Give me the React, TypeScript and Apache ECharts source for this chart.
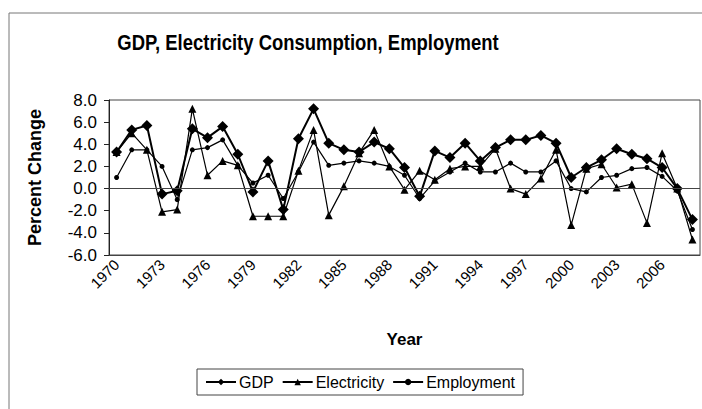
import React, { useEffect, useRef } from "react";
import * as echarts from "echarts";

const years: string[] = [];
for (let y = 1970; y <= 2008; y++) years.push(String(y));

const gdp = [
  3.3, 5.3, 5.7, -0.5, -0.2, 5.4, 4.6, 5.6, 3.1, -0.3,
  2.5, -1.9, 4.5, 7.2, 4.1, 3.5, 3.3, 4.2, 3.6, 1.9,
  -0.7, 3.4, 2.8, 4.1, 2.5, 3.7, 4.4, 4.4, 4.8, 4.1,
  1.0, 1.9, 2.6, 3.6, 3.1, 2.7, 1.9, 0.0, -2.8,
];
const electricity = [
  3.3, 5.0, 3.5, -2.1, -1.9, 7.2, 1.2, 2.5, 2.1, -2.5,
  -2.5, -2.5, 1.6, 5.3, -2.4, 0.2, 3.2, 5.3, 2.0, -0.1,
  1.6, 0.8, 1.8, 2.0, 2.0, 3.6, 0.0, -0.5, 0.9, 3.5,
  -3.3, 1.8, 2.2, 0.1, 0.4, -3.1, 3.2, 0.0, -4.6,
];
const employment = [
  1.0, 3.5, 3.5, 2.0, -1.0, 3.5, 3.7, 4.4, 2.1, 0.5,
  1.2, -0.9, 1.5, 4.2, 2.1, 2.3, 2.5, 2.3, 2.0, 1.2,
  -0.9, 0.7, 1.5, 2.3, 1.5, 1.5, 2.3, 1.5, 1.5, 2.5,
  0.0, -0.3, 1.0, 1.2, 1.8, 1.9, 1.1, -0.2, -3.7,
];

const FONT = "'Liberation Sans', Arial, sans-serif";

export default function App() {
  const ref = useRef<HTMLDivElement>(null);
  useEffect(() => {
    if (!ref.current) return;
    const chart = echarts.init(ref.current, undefined, { renderer: "svg" });
    chart.setOption({
      animation: false,
      backgroundColor: "#fff",
      textStyle: { fontFamily: FONT, color: "#000" },
      graphic: [
        { type: "line", shape: { x1: 9, y1: 13, x2: 702, y2: 13 }, style: { stroke: "#777", lineWidth: 1 } },
        { type: "line", shape: { x1: 9, y1: 13, x2: 9, y2: 409 }, style: { stroke: "#777", lineWidth: 1 } },
        {
          type: "text",
          x: 308,
          y: 42,
          scaleX: 0.84,
          style: {
            text: "GDP, Electricity Consumption, Employment",
            font: "bold 22px 'Liberation Sans', Arial, sans-serif",
            fill: "#000",
            align: "center",
            verticalAlign: "middle",
          },
        },
      ],
      legend: {
        data: ["GDP", "Electricity", "Employment"],
        left: 197,
        top: 369,
        orient: "horizontal",
        borderColor: "#444",
        borderWidth: 1,
        borderRadius: 0,
        padding: [5, 8],
        itemWidth: 30,
        itemHeight: 8,
        itemGap: 8,
        textStyle: { fontFamily: FONT, fontSize: 16, color: "#000", padding: [0, 0, 0, -2] },
      },
      grid: {
        left: 109,
        right: 2,
        top: 100,
        bottom: 154,
        show: true,
        borderColor: "#444",
        borderWidth: 1,
        backgroundColor: "transparent",
      },
      xAxis: {
        type: "category",
        data: years,
        boundaryGap: true,
        name: "Year",
        nameLocation: "middle",
        nameGap: 76,
        nameTextStyle: { fontFamily: FONT, fontSize: 17, fontWeight: "bold", color: "#000" },
        axisLine: { onZero: false, lineStyle: { color: "#444" } },
        axisTick: { show: false },
        axisLabel: {
          interval: 2,
          rotate: 45,
          fontFamily: FONT,
          fontSize: 15,
          color: "#000",
          margin: 7,
        },
        splitLine: { show: false },
      },
      yAxis: {
        type: "value",
        min: -6,
        max: 8,
        interval: 2,
        name: "Percent Change",
        nameLocation: "middle",
        nameGap: 65,
        nameRotate: 90,
        nameTextStyle: { fontFamily: FONT, fontSize: 18, fontWeight: "bold", color: "#000" },
        axisLine: { show: true, lineStyle: { color: "#222" } },
        axisTick: { show: true, inside: false, length: 5, lineStyle: { color: "#222" } },
        axisLabel: {
          fontFamily: FONT,
          fontSize: 17,
          color: "#000",
          margin: 12,
          formatter: (v: number) => v.toFixed(1),
        },
        splitLine: { show: false },
      },
      series: [
        {
          name: "GDP",
          type: "line",
          data: gdp,
          symbol: "diamond",
          symbolSize: 11,
          showSymbol: true,
          showAllSymbol: true,
          lineStyle: { color: "#000", width: 2 },
          itemStyle: { color: "#000" },
          z: 4,
          markLine: {
            silent: true,
            symbol: "none",
            label: { show: false },
            lineStyle: { color: "#444", width: 1, type: "solid" },
            data: [{ yAxis: 0 }],
          },
        },
        {
          name: "Electricity",
          type: "line",
          data: electricity,
          symbol: "triangle",
          symbolSize: 8,
          showSymbol: true,
          showAllSymbol: true,
          lineStyle: { color: "#000", width: 1.2 },
          itemStyle: { color: "#000" },
          z: 3,
        },
        {
          name: "Employment",
          type: "line",
          data: employment,
          symbol: "circle",
          symbolSize: 5,
          showSymbol: true,
          showAllSymbol: true,
          lineStyle: { color: "#000", width: 1.2 },
          itemStyle: { color: "#000" },
          z: 3,
        },
      ],
    });
    return () => chart.dispose();
  }, []);
  return (
    <div
      ref={ref}
      style={{ position: "fixed", left: 0, top: 0, width: 702, height: 409, background: "#fff" }}
    />
  );
}
